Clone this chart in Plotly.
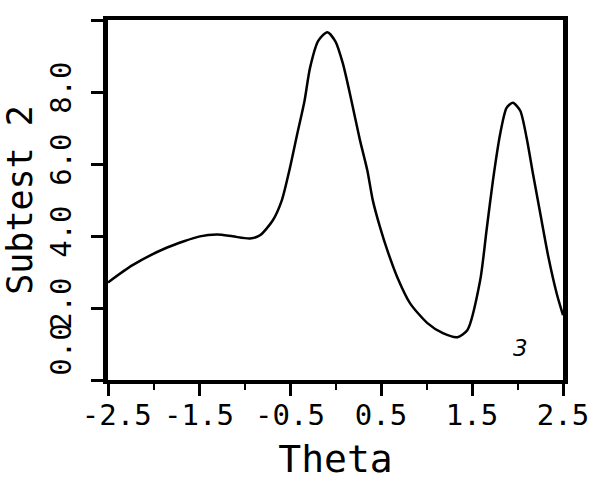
import plotly.graph_objects as go

# Theta values (x) and Subtest 2 information values (y)
theta = [-2.5, -2.23, -1.85, -1.49, -1.30, -1.13, -0.94, -0.83, -0.69, -0.59,
         -0.50, -0.42, -0.34, -0.28, -0.19, -0.09, 0.0, 0.08, 0.15, 0.21, 0.27, 0.35,
         0.41, 0.49, 0.57, 0.68, 0.82, 1.01, 1.18, 1.34, 1.45, 1.59,
         1.66, 1.73, 1.81, 1.88, 1.95, 2.03, 2.10, 2.17, 2.25, 2.34,
         2.43, 2.5]
info = [2.71, 3.19, 3.68, 3.99, 4.04, 3.99, 3.93, 4.02, 4.43, 4.99,
        5.90, 6.84, 7.76, 8.67, 9.42, 9.66, 9.40, 8.80, 8.05, 7.35, 6.65, 5.82,
        4.99, 4.24, 3.60, 2.85, 2.13, 1.58, 1.30, 1.19, 1.39, 2.77,
        4.16, 5.54, 6.84, 7.56, 7.70, 7.48, 6.73, 5.73, 4.63, 3.41,
        2.41, 1.80]

x_tickvals = [-2.5, -1.5, -0.5, 0.5, 1.5, 2.5]
x_ticktext = ["\u2007-2.5", "-1.5", "-0.5", "0.5", "1.5", "2.5"]
y_tickvals = [0, 2, 4, 6, 8, 10]
y_ticktext = ["\u2007\u2007\u20070.0", "2.0", "4.0", "6.0", "8.0", ""]

FONT = "DejaVu Sans Mono"

fig = go.Figure()
fig.add_trace(go.Scatter(x=theta, y=info, mode="lines",
                         line=dict(color="black", width=2.5, shape="spline", smoothing=0.7),
                         hoverinfo="skip", showlegend=False))

fig.add_annotation(x=2.03, y=0.9, xref="x", yref="y", text="<i>3</i>",
                   showarrow=False, font=dict(family="DejaVu Sans", size=23, color="black"))

fig.update_layout(
    width=609, height=485,
    margin=dict(l=108, r=46, t=20, b=105),
    paper_bgcolor="white", plot_bgcolor="white",
    showlegend=False,
    xaxis=dict(range=[-2.5, 2.5], tickmode="array", tickvals=x_tickvals, ticktext=x_ticktext,
               ticks="outside", ticklen=12, tickwidth=2.5, tickcolor="black",
               minor=dict(tickmode="linear", tick0=-2.5, dtick=0.5, ticks="outside",
                          ticklen=6, tickwidth=2, tickcolor="black"),
               showline=True, linewidth=4, linecolor="black", mirror=True,
               showgrid=False, zeroline=False, automargin=False,
               tickfont=dict(family=FONT, size=29, color="black"),
               ticklabelstandoff=-6,
               title=dict(text="Theta", font=dict(family=FONT, size=38, color="black"),
                          standoff=16)),
    yaxis=dict(range=[0, 10], tickmode="array", tickvals=y_tickvals, ticktext=y_ticktext,
               ticks="outside", ticklen=12, tickwidth=2.5, tickcolor="black",
               tickangle=-90,
               showline=True, linewidth=5, linecolor="black", mirror=True,
               showgrid=False, zeroline=False, automargin=False,
               tickfont=dict(family=FONT, size=29, color="black"),
               ticklabelstandoff=8,
               title=dict(text="Subtest 2", font=dict(family=FONT, size=35, color="black"),
                          standoff=12)),
)

fig.write_html("out.html")
